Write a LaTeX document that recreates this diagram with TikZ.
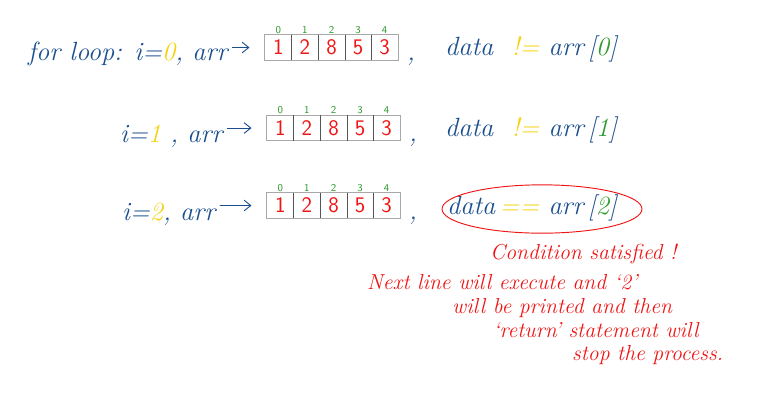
\documentclass[tikz,border=0pt]{standalone}
\usepackage{fontspec}
\usepackage{xcolor}
\usepackage{tikz}
\usetikzlibrary{arrows.meta,positioning,fit,shapes.geometric}
\definecolor{InkBlue}{HTML}{1B4F8F}
\definecolor{InkYellow}{HTML}{F5D20F}
\definecolor{InkGreen}{HTML}{2E9B2E}
\definecolor{InkRed}{HTML}{F01414}
\definecolor{CellLight}{HTML}{A8A8A8}
\definecolor{CellDark}{HTML}{555555}
\tikzset{
  handtext/.style={font=\fontsize{22.5}{24}\selectfont\itshape, text=InkBlue, inner sep=0pt, anchor=base west},
  notetext/.style={font=\fontsize{18.5}{20}\selectfont\itshape\addfontfeature{LetterSpace=9}, text=InkRed, inner sep=0pt, anchor=base west},
  cellbox/.style={minimum width=0.8cm, minimum height=0.75cm, inner sep=0pt,
    font=\fontsize{19}{20}\selectfont\sffamily, text=InkRed},
  idxlabel/.style={font=\fontsize{9}{10}\selectfont\sffamily, text=InkGreen, inner sep=0pt},
  arraybox/.style={draw=CellLight, semithick, inner sep=0pt},
  divider/.style={draw=CellDark, thick},
  ptr/.style={-{Straight Barb[length=2mm,width=3.2mm]}, draw=InkBlue, thick, line cap=round,
    shorten <=4pt, shorten >=13pt}
}

\begin{document}
\begin{tikzpicture}[x=0.03cm, y=-0.03cm]
\useasboundingbox (0,0) rectangle (772,412);

% loop text
\node[handtext] at (28,60) (lead1) {for loop: i=\textcolor{InkYellow}{0}, arr};
\node[handtext] at (120,142) (lead2) {i=\textcolor{InkYellow}{1} , arr};
\node[handtext] at (122,220) (lead3) {i=\textcolor{InkYellow}{2}, arr};

% the three copies of arr
\foreach \r/\x/\y in {1/265/47.5, 2/267/128, 3/267/205.5}{
  \foreach \v [count=\k] in {1,2,8,5,3}{
    \node[cellbox] (c\r-\k) at ({\x+13.3+26.6*(\k-1)},\y) {\v};
    \node[idxlabel, above=1pt of c\r-\k] (i\r-\k) {\the\numexpr\k-1\relax};
  }
  \node[arraybox, fit=(c\r-1)(c\r-5)] (a\r) {};
  \foreach \k in {1,2,3,4}
    \draw[divider] (c\r-\k.north east) -- (c\r-\k.south east);
  \draw[ptr] (lead\r.east |- c\r-1.west) -- (c\r-1.west);
}

\node[handtext] at (407,60) (comma1) {,};
\node[handtext] at (409,141) (comma2) {,};
\node[handtext] at (409,219) (comma3) {,};

% comparisons
\node[handtext] at (445,55) (cmp1) {data\ \ \textcolor{InkYellow}{!=}\ arr\,[\textcolor{InkGreen}{0}]};
\node[handtext] at (445,136) (cmp2) {data\ \ \textcolor{InkYellow}{!=}\ arr\,[\textcolor{InkGreen}{1}]};
\node[handtext] at (447,214) (cmp3) {data\,\textcolor{InkYellow}{==}\ arr\,[\textcolor{InkGreen}{2}]};
\node[ellipse, draw=InkRed, thick, minimum width=6cm, minimum height=1.45cm] at (542,209) (hit) {};

% red remark
\node[notetext] at (490,259) (note1) {Condition satisfied !};
\node[notetext] at (367,289) (note2) {Next line will execute and `2'};
\node[notetext] at (452,313) (note3) {will be printed and then};
\node[notetext] at (493,337) (note4) {`return' statement will};
\node[notetext] at (572,360) (note5) {stop the process.};
\end{tikzpicture}
\end{document}
